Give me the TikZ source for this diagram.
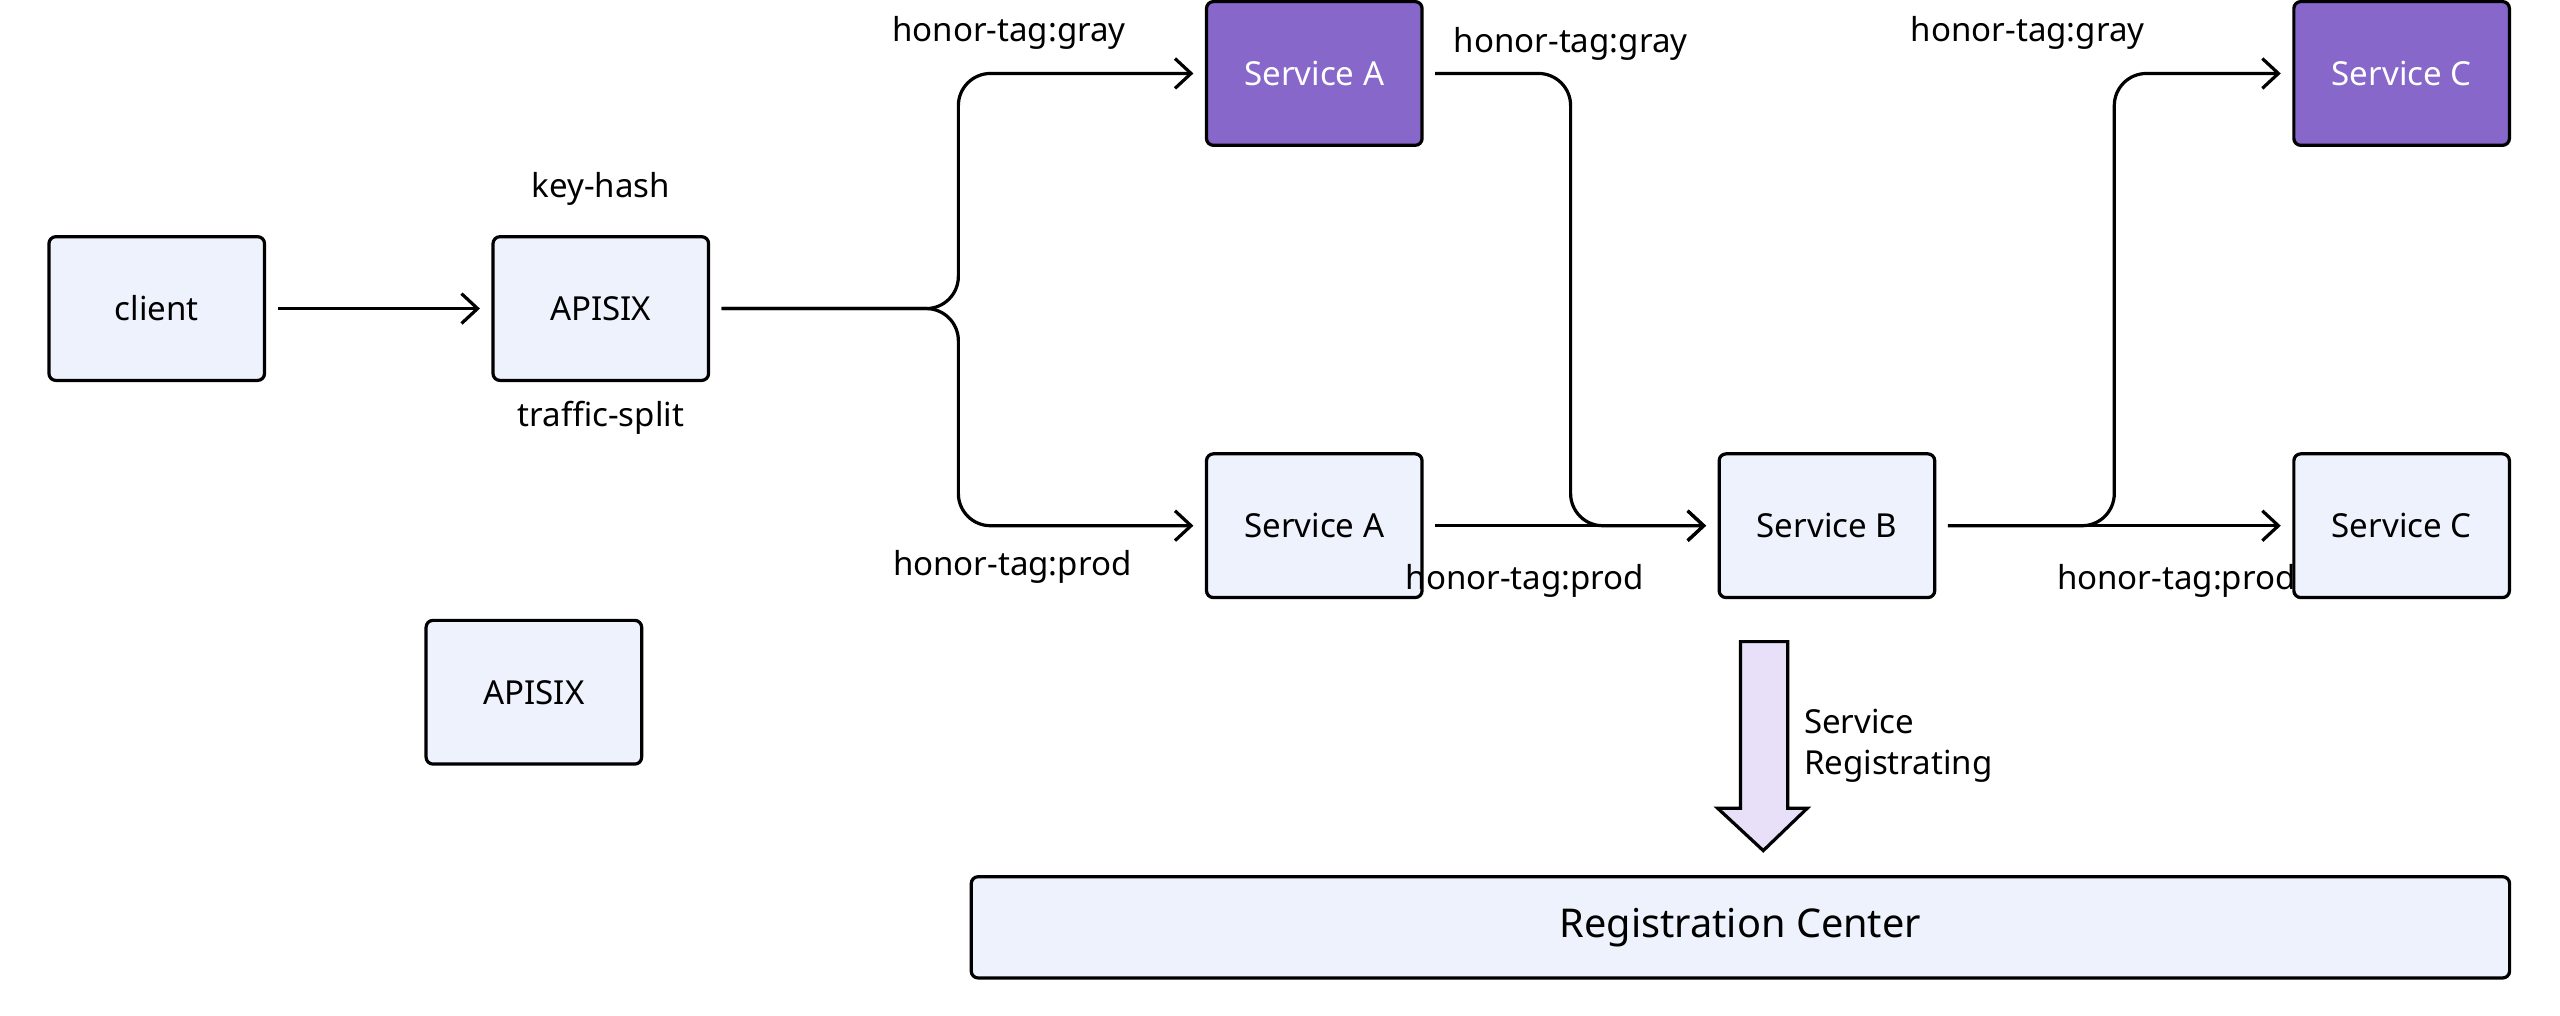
\documentclass[tikz,border=0pt]{standalone}
\usepackage{fontspec}
\setmainfont{Noto Sans}
\usetikzlibrary{arrows.meta,shapes.arrows}
\definecolor{boxfill}{HTML}{EEF2FC}
\definecolor{graybox}{HTML}{8767C9}
\definecolor{arrowfill}{HTML}{E8E0F8}
\tikzset{
    svc/.style={draw, line width=1.4pt, rounded corners=3pt, fill=boxfill,
        minimum width=3.3cm, minimum height=2.2cm, font=\Large},
    gray svc/.style={svc, fill=graybox, text=white},
    link/.style={line width=1.4pt, -{Straight Barb[length=7pt,width=13pt]},
        rounded corners=14pt, shorten <=5pt, shorten >=5pt},
    tag/.style={font=\Large}
}
\begin{document}
\begin{tikzpicture}[x=0.025cm, y=-0.025cm]
\useasboundingbox (0,0) rectangle (1568,622);

% boxes
\node[svc] (client) at (96,189) {client};
\node[svc] (apisix) at (368,189) {APISIX};
\node[svc] (apisix2) at (327,424) {APISIX};
\node[gray svc] (sagray) at (805,45) {Service A};
\node[svc] (saprod) at (805,322) {Service A};
\node[svc] (sb) at (1119,322) {Service B};
\node[gray svc] (scgray) at (1471,45) {Service C};
\node[svc] (scprod) at (1471,322) {Service C};
\node[svc, minimum width=23.55cm, minimum height=1.55cm, font=\LARGE] (reg) at (1066,568) {Registration Center};

% bend points
\coordinate (split) at (587,189);
\coordinate (joina) at (962,45);
\coordinate (splitb) at (1295,322);

% connectors
\draw[link] (client) -- (apisix);
\draw[link] (apisix.east) -- (split) |- (sagray.west);
\draw[link] (apisix.east) -- (split) |- (saprod.west);
\draw[link] (sagray.east) -- (joina) |- (sb.west);
\draw[link] (saprod) -- (sb);
\draw[link] (sb.east) -- (splitb) |- (scgray.west);
\draw[link] (sb) -- (scprod);

% labels
\node[tag] (kh) at (368,116) {key-hash};
\node[tag] (ts) at (368,256) {traffic-split};
\node[tag] (t1) at (618,20) {honor-tag:gray};
\node[tag] (t2) at (620,347) {honor-tag:prod};
\node[tag] (t3) at (962,27) {honor-tag:gray};
\node[tag] (t4) at (934,356) {honor-tag:prod};
\node[tag] (t5) at (1242,20) {honor-tag:gray};
\node[tag] (t6) at (1333,356) {honor-tag:prod};

% registration arrow
\draw[line width=1.4pt, fill=arrowfill] (1066,393) -- (1095,393) -- (1095,495) -- (1107,495)
    -- (1080,521) -- (1052,495) -- (1066,495) -- cycle;
\node[tag, anchor=west, align=left] (regtxt) at (1100,457) {Service\\Registrating};
\end{tikzpicture}
\end{document}
